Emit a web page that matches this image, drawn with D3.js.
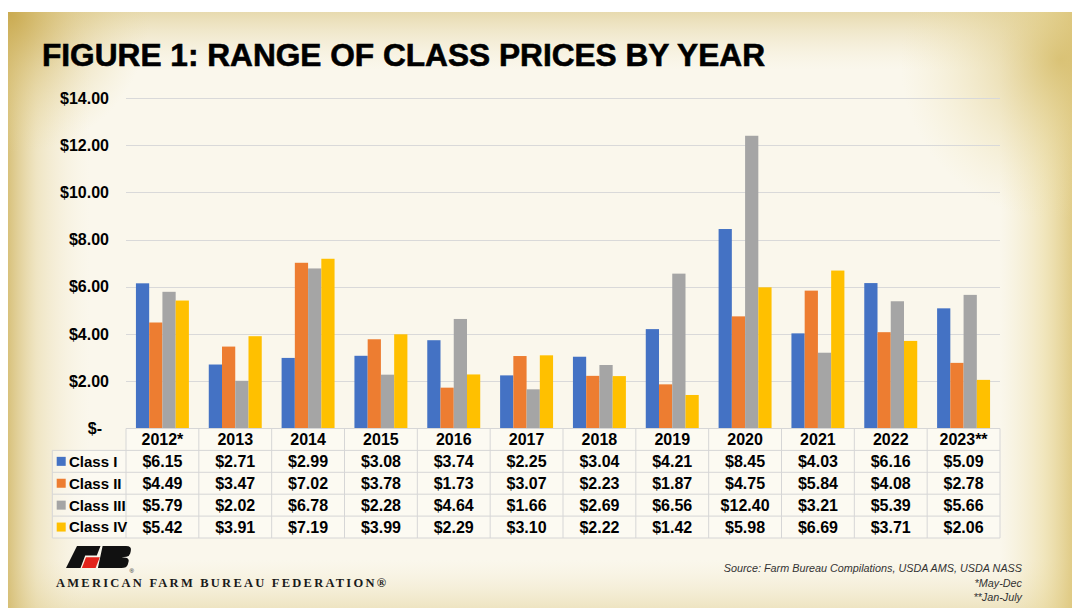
<!DOCTYPE html>
<html>
<head>
<meta charset="utf-8">
<script src="https://cdn.jsdelivr.net/npm/d3@7"></script>
<style>
  html, body { margin: 0; padding: 0; background: #ffffff; }
  svg { display: block; }
</style>
</head>
<body>
<svg id="chart" width="1072" height="612"></svg>
<script>
// ---------- DATA ----------
const years = ["2012*", "2013", "2014", "2015", "2016", "2017", "2018", "2019", "2020", "2021", "2022", "2023**"];
const seriesNames = ["Class I", "Class II", "Class III", "Class IV"];
const classI   = [6.15, 2.71, 2.99, 3.08, 3.74, 2.25, 3.04, 4.21, 8.45, 4.03, 6.16, 5.09];
const classII  = [4.49, 3.47, 7.02, 3.78, 1.73, 3.07, 2.23, 1.87, 4.75, 5.84, 4.08, 2.78];
const classIII = [5.79, 2.02, 6.78, 2.28, 4.64, 1.66, 2.69, 6.56, 12.40, 3.21, 5.39, 5.66];
const classIV  = [5.42, 3.91, 7.19, 3.99, 2.29, 3.10, 2.22, 1.42, 5.98, 6.69, 3.71, 2.06];
const yTicks = [0, 2, 4, 6, 8, 10, 12, 14];
const titleText = "FIGURE 1: RANGE OF CLASS PRICES BY YEAR";
const sourceLines = ["Source: Farm Bureau Compilations, USDA AMS, USDA NASS", "*May-Dec", "**Jan-July"];
const orgName = "AMERICAN FARM BUREAU FEDERATION\u00AE";

const seriesValues = [classI, classII, classIII, classIV];
const colors = ["#4472C4", "#ED7D31", "#A5A5A5", "#FFC000"];

// ---------- SETUP ----------
const svg = d3.select("#chart");
const defs = svg.append("defs");

// Parchment background
const lg = (id, x1, y1, x2, y2, stops) => {
  const g = defs.append("linearGradient").attr("id", id)
    .attr("gradientUnits", "userSpaceOnUse")
    .attr("x1", x1).attr("y1", y1).attr("x2", x2).attr("y2", y2);
  stops.forEach(s => g.append("stop").attr("offset", s[0]).attr("stop-color", s[1]).attr("stop-opacity", s[2]));
};
lg("gLeft", 8, 0, 90, 0, [[0, "#d2b868", 0.85], [0.35, "#e2cf92", 0.45], [1, "#f3ead0", 0]]);
lg("gRight", 1000, 0, 1072, 0, [[0, "#efe3b8", 0], [0.6, "#e9d898", 0.55], [1, "#dcc476", 0.85]]);
lg("gTop", 0, 12, 0, 70, [[0, "#d8c27c", 0.55], [1, "#efe4c0", 0]]);
lg("gBottom", 0, 560, 0, 608, [[0, "#efe4c0", 0], [1, "#e0cd8e", 0.45]]);
const rg = defs.append("radialGradient").attr("id", "gCorner")
  .attr("gradientUnits", "userSpaceOnUse").attr("cx", 10).attr("cy", 14).attr("r", 140);
rg.append("stop").attr("offset", 0).attr("stop-color", "#c9a94e").attr("stop-opacity", 0.9);
rg.append("stop").attr("offset", 1).attr("stop-color", "#e8d89f").attr("stop-opacity", 0);
const rg2 = defs.append("radialGradient").attr("id", "gCornerTR")
  .attr("gradientUnits", "userSpaceOnUse").attr("cx", 1060).attr("cy", 60).attr("r", 160);
rg2.append("stop").attr("offset", 0).attr("stop-color", "#d6bd6c").attr("stop-opacity", 0.8);
rg2.append("stop").attr("offset", 1).attr("stop-color", "#efe2b0").attr("stop-opacity", 0);

const bg = svg.append("g");
bg.append("rect").attr("x", 0).attr("y", 0).attr("width", 1072).attr("height", 612).attr("fill", "#ffffff");
const px = 8, py = 12, pw = 1064, ph = 596;
bg.append("rect").attr("x", px).attr("y", py).attr("width", pw).attr("height", ph).attr("fill", "#faf7ec");
["gTop", "gBottom", "gLeft", "gRight", "gCorner", "gCornerTR"].forEach(id =>
  bg.append("rect").attr("x", px).attr("y", py).attr("width", pw).attr("height", ph).attr("fill", `url(#${id})`));

// ---------- TITLE ----------
svg.append("text")
  .attr("x", 42).attr("y", 66)
  .attr("font-family", "'Liberation Sans Narrow', 'Liberation Sans', Arial, sans-serif")
  .attr("font-weight", "bold").attr("font-size", 31)
  .attr("textLength", 723).attr("lengthAdjust", "spacingAndGlyphs")
  .attr("stroke", "#000").attr("stroke-width", 0.6)
  .attr("fill", "#000").text(titleText);

// ---------- SCALES ----------
const plotLeft = 126, plotRight = 1000;
const x = d3.scaleBand().domain(years).range([plotLeft, plotRight]).paddingInner(0).paddingOuter(0);
const x1 = d3.scaleBand().domain(seriesNames).range([0, x.bandwidth()]).paddingInner(0).paddingOuter(0.75);
const y = d3.scaleLinear().domain([0, 14]).range([428.5, 98]);

const fontMain = "'Liberation Sans', Arial, sans-serif";

// gridlines
svg.append("g").selectAll("line").data(yTicks.filter(d => d > 0)).join("line")
  .attr("x1", plotLeft).attr("x2", plotRight)
  .attr("y1", d => Math.round(y(d)) + 0.5).attr("y2", d => Math.round(y(d)) + 0.5)
  .attr("stroke", "#d9d9d9").attr("stroke-width", 1);

// y axis
const yAxis = d3.axisLeft(y).tickValues(yTicks).tickSize(0).tickPadding(17)
  .tickFormat(d => d === 0 ? "$-" : d3.format("$.2f")(d));
const gy = svg.append("g").attr("transform", `translate(${plotLeft},0)`).call(yAxis);
gy.select(".domain").remove();
gy.selectAll("text").attr("font-family", fontMain).attr("font-weight", "bold")
  .attr("font-size", 16).attr("fill", "#000");
gy.selectAll(".tick").filter(d => d === 0).select("text").attr("x", -24);

// bars
const groups = svg.append("g").selectAll("g").data(years).join("g")
  .attr("transform", d => `translate(${x(d)},0)`);
groups.selectAll("rect").data((d, i) => seriesNames.map((s, j) => ({ s, v: seriesValues[j][i], j })))
  .join("rect")
  .attr("x", d => x1(d.s)).attr("width", x1.bandwidth())
  .attr("y", d => y(d.v)).attr("height", d => y(0) - y(d.v))
  .attr("fill", d => colors[d.j]);

// ---------- DATA TABLE ----------
const tTop = 428.5, rowH = 21.9, tLeft = 52.3;
const table = svg.append("g");
table.append("rect").attr("x", plotLeft).attr("y", tTop).attr("width", plotRight - plotLeft).attr("height", rowH)
  .attr("fill", "#ffffff").attr("fill-opacity", 0.35);
table.append("rect").attr("x", tLeft).attr("y", tTop + rowH).attr("width", plotRight - tLeft).attr("height", rowH * 4)
  .attr("fill", "#ffffff").attr("fill-opacity", 0.35);

const lineColor = "#d6d6d6";
table.append("line").attr("x1", plotLeft).attr("x2", plotRight).attr("y1", tTop).attr("y2", tTop)
  .attr("stroke", lineColor);
d3.range(1, 6).forEach(i => {
  table.append("line").attr("x1", tLeft).attr("x2", plotRight)
    .attr("y1", tTop + i * rowH).attr("y2", tTop + i * rowH).attr("stroke", lineColor);
});
table.append("line").attr("x1", tLeft).attr("x2", tLeft).attr("y1", tTop + rowH).attr("y2", tTop + 5 * rowH)
  .attr("stroke", lineColor);
years.forEach(yr => {
  table.append("line").attr("x1", x(yr)).attr("x2", x(yr)).attr("y1", tTop).attr("y2", tTop + 5 * rowH)
    .attr("stroke", lineColor);
});
table.append("line").attr("x1", plotRight).attr("x2", plotRight).attr("y1", tTop).attr("y2", tTop + 5 * rowH)
  .attr("stroke", lineColor);

// header
table.selectAll("text.hdr").data(years).join("text").attr("class", "hdr")
  .attr("x", d => x(d) + x.bandwidth() / 2).attr("y", tTop + rowH / 2).attr("dy", "0.36em")
  .attr("text-anchor", "middle").attr("font-family", fontMain).attr("font-weight", "bold")
  .attr("font-size", 16).attr("fill", "#000").text(d => d);

// rows
seriesNames.forEach((s, j) => {
  const cy = tTop + rowH * (j + 1) + rowH / 2;
  table.append("rect").attr("x", 56.7).attr("y", cy - 4.5).attr("width", 9).attr("height", 9).attr("fill", colors[j]);
  table.append("text").attr("x", 69).attr("y", cy).attr("dy", "0.36em")
    .attr("font-family", fontMain).attr("font-weight", "bold").attr("font-size", 15).attr("fill", "#000").text(s);
  table.selectAll(`text.r${j}`).data(seriesValues[j]).join("text").attr("class", `r${j}`)
    .attr("x", (d, i) => x(years[i]) + x.bandwidth() / 2).attr("y", cy).attr("dy", "0.36em")
    .attr("text-anchor", "middle").attr("font-family", fontMain).attr("font-weight", "bold")
    .attr("font-size", 16).attr("fill", "#000").text(d => d3.format("$.2f")(d));
});

// ---------- LOGO ----------
const logo = svg.append("g");
// F (top bar + stem)
logo.append("path").attr("d", "M77,546 L100.5,546 L96.8,555.6 L85.2,555.6 L80.5,568 L66,568 Z").attr("fill", "#111");
// red block
logo.append("path").attr("d", "M86,557.3 L99.8,557.3 L95.6,568 L81.9,568 Z").attr("fill", "#e2231a");
// B with right-side notch
logo.append("path")
  .attr("d", "M102.6,546 L126,546 Q132,546 130.8,551 L130.2,553.5 Q129.5,556 126.5,556.7 L121.5,557.2 L126,557.7 Q129.3,558.6 128.6,561.5 L127.8,564.5 Q126.8,568 121.5,568 L97.9,568 Z")
  .attr("fill", "#111");
logo.append("text").attr("x", 129.5).attr("y", 573).attr("font-size", 6).attr("font-family", fontMain)
  .attr("fill", "#111").text("\u00AE");
logo.append("text").attr("x", 56).attr("y", 587)
  .attr("font-family", "'Liberation Serif', 'Times New Roman', serif").attr("font-size", 12.5)
  .attr("font-weight", "bold")
  .attr("textLength", 330).attr("lengthAdjust", "spacing")
  .attr("fill", "#1a1a1a").text(orgName);

// ---------- SOURCE ----------
svg.append("g").selectAll("text").data(sourceLines).join("text")
  .attr("x", 1022).attr("y", (d, i) => 572 + i * 14.5)
  .attr("text-anchor", "end").attr("font-family", fontMain).attr("font-style", "italic")
  .attr("font-size", 10.8).attr("fill", "#333").text(d => d);
</script>
</body>
</html>
